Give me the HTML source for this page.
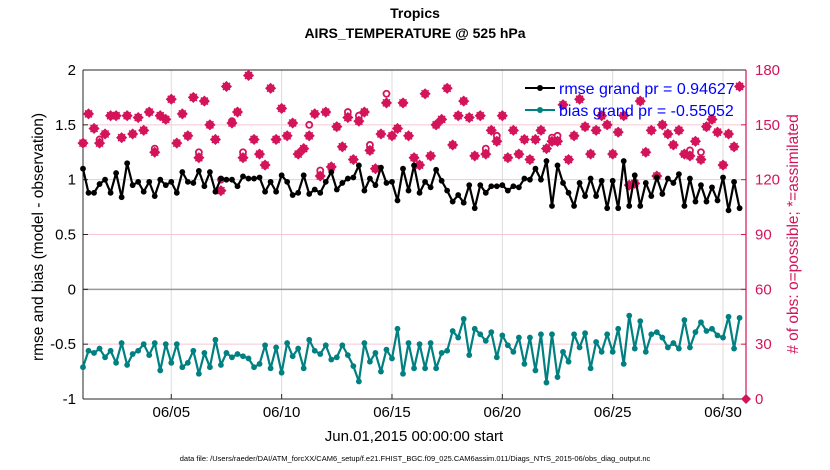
<!DOCTYPE html>
<html><head><meta charset="utf-8"><style>
body{margin:0;background:#fff;}
svg{display:block;font-family:"Liberation Sans",sans-serif;}
</style></head><body>
<svg id="chart" width="830" height="470" viewBox="0 0 830 470">
<rect width="830" height="470" fill="#fff"/>
<g id="grid"></g>
<g id="axes"></g>
<g id="series"></g>
<text x="415" y="18" text-anchor="middle" font-size="14" font-weight="bold">Tropics</text>
<text x="415" y="38" text-anchor="middle" font-size="14" font-weight="bold">AIRS_TEMPERATURE @ 525 hPa</text>
<text transform="translate(43,237) rotate(-90)" text-anchor="middle" font-size="15.5">rmse and bias (model - observation)</text>
<text transform="translate(798,234) rotate(-90)" text-anchor="middle" font-size="15.5" fill="#d4145a"># of obs: o=possible; *=assimilated</text>
<text x="414" y="441" text-anchor="middle" font-size="15">Jun.01,2015 00:00:00 start</text>
<text x="415" y="461" text-anchor="middle" font-size="7.5">data file: /Users/raeder/DAI/ATM_forcXX/CAM6_setup/f.e21.FHIST_BGC.f09_025.CAM6assim.011/Diags_NTrS_2015-06/obs_diag_output.nc</text>
<g>
<line x1="525" y1="88" x2="555" y2="88" stroke="#000" stroke-width="2"/><circle cx="540" cy="88" r="3" fill="#000"/>
<text x="559" y="94" font-size="16" fill="#0000ff">rmse grand pr = 0.94627</text>
<line x1="525" y1="110" x2="555" y2="110" stroke="#008080" stroke-width="2"/><circle cx="540" cy="110" r="3" fill="#008080"/>
<text x="559" y="116" font-size="16" fill="#0000ff">bias grand pr = -0.55052</text>
</g>
</svg>
<script>
const rmse=[1.10,0.88,0.88,0.96,1.0,0.88,1.06,0.84,1.15,0.95,0.98,0.89,0.98,0.85,1.0,0.95,0.98,0.88,1.07,0.98,0.97,1.08,0.94,1.07,0.89,1.01,1.0,1.0,0.94,1.03,1.01,1.01,1.02,0.89,0.98,0.89,1.04,0.98,0.86,0.88,1.04,0.87,0.91,0.88,0.98,1.07,0.91,0.97,1.01,1.02,1.13,0.90,1.01,0.95,1.11,0.97,0.98,0.81,1.10,0.90,1.13,0.88,0.98,0.93,1.09,0.99,0.90,0.80,0.86,0.79,0.95,0.74,0.95,0.88,0.94,0.94,0.95,0.90,0.94,0.93,1.01,1.0,1.10,1.0,1.17,0.76,1.13,0.97,0.88,0.76,0.97,0.85,1.01,0.85,0.99,0.74,0.99,0.74,1.17,0.76,1.04,0.76,0.97,0.85,1.02,0.87,1.01,0.97,1.05,0.76,1.01,0.80,0.95,0.80,0.93,0.81,1.02,0.72,0.98,0.74];
const bias=[-0.71,-0.56,-0.58,-0.54,-0.62,-0.56,-0.67,-0.49,-0.69,-0.59,-0.56,-0.50,-0.60,-0.49,-0.74,-0.50,-0.67,-0.50,-0.71,-0.67,-0.56,-0.77,-0.58,-0.71,-0.46,-0.69,-0.58,-0.62,-0.59,-0.61,-0.63,-0.71,-0.68,-0.51,-0.72,-0.53,-0.76,-0.49,-0.61,-0.54,-0.72,-0.46,-0.56,-0.59,-0.51,-0.64,-0.62,-0.51,-0.60,-0.70,-0.84,-0.49,-0.66,-0.58,-0.75,-0.55,-0.63,-0.36,-0.77,-0.49,-0.72,-0.50,-0.72,-0.49,-0.72,-0.58,-0.56,-0.38,-0.44,-0.27,-0.60,-0.36,-0.41,-0.47,-0.39,-0.62,-0.42,-0.51,-0.57,-0.44,-0.68,-0.44,-0.74,-0.41,-0.85,-0.41,-0.80,-0.57,-0.66,-0.41,-0.53,-0.40,-0.72,-0.48,-0.57,-0.41,-0.57,-0.36,-0.68,-0.24,-0.54,-0.29,-0.57,-0.41,-0.39,-0.44,-0.53,-0.49,-0.54,-0.28,-0.53,-0.39,-0.30,-0.38,-0.36,-0.42,-0.44,-0.25,-0.54,-0.26];
const possible=[140,156,148,142,145,155,155,143,155,145,154,147,157,137,155,153,164,140,156,144,165,135,163,150,142,120,171,152,157,135,177,142,134,128,170,142,159,144,151,134,137,150,156,125,157,127,149,138,157,131,155,157,139,126,145,167,144,148,162,144,132,128,167,133,150,153,170,139,155,163,154,133,155,137,147,144,155,132,147,134,142,131,142,147,137,143,144,161,131,144,164,149,134,147,155,150,134,146,155,117,118,163,135,147,122,150,145,139,147,134,136,141,135,149,153,146,128,145,138,171];
const assimilated=[140,156,148,140,145,155,155,143,155,145,154,147,157,135,155,153,164,140,156,144,165,132,163,150,142,114,171,151,157,132,177,142,134,128,170,142,159,144,151,134,137,144,156,122,157,127,149,138,154,131,152,157,136,126,145,162,144,148,162,144,132,128,167,133,150,153,170,139,155,163,154,133,155,134,147,141,155,132,147,134,142,131,142,147,137,141,141,161,131,144,164,149,134,147,155,150,134,146,155,117,118,163,135,147,122,150,145,139,147,134,133,141,131,149,153,146,128,145,138,171];
const leftTicks=[-1,-0.5,0,0.5,1,1.5,2];
const rightTicks=[0,30,60,90,120,150,180];
const dayTicks=[5,10,15,20,25,30];
const dayLabels=["06/05","06/10","06/15","06/20","06/25","06/30"];

const NS="http://www.w3.org/2000/svg";
const L=83,R=746,T=70,B=399;
const X=d=>L+(d-1)*22.07;
const Y=v=>T+(2-v)*(B-T)/3;
const Y2=v=>B-v*(B-T)/180;
const xi=i=>X(1+i/4);
function mk(tag,attrs,parent){const e=document.createElementNS(NS,tag);for(const k in attrs)e.setAttribute(k,attrs[k]);parent.appendChild(e);return e;}
const grid=document.getElementById('grid'),axes=document.getElementById('axes'),ser=document.getElementById('series');

dayTicks.forEach((d,i)=>{
  const l=mk('line',{x1:X(d),x2:X(d),y1:T,y2:B,stroke:'#dcdcdc','stroke-width':1},grid);
  
  
  mk('line',{x1:X(d),x2:X(d),y1:B,y2:B-5,stroke:'#262626'},axes);
  const t=mk('text',{x:X(d),y:B+18,'text-anchor':'middle','font-size':15},axes);
  t.textContent=dayLabels[i];
  
  
});
rightTicks.forEach(v=>{
  if(v>0&&v<180&&v!==60){
    const l=mk('line',{x1:L,x2:R,y1:Y2(v),y2:Y2(v),stroke:'#f7c6d6','stroke-width':1},grid);
    
    
  }
  mk('line',{x1:R,x2:R-5,y1:Y2(v),y2:Y2(v),stroke:'#d4145a'},axes);
  const t=mk('text',{x:R+9,y:Y2(v)+5,'font-size':15,fill:'#d4145a'},axes);
  t.textContent=v;
  
  
});
const z=mk('line',{x1:L,x2:R,y1:Y(0),y2:Y(0),stroke:'#999','stroke-width':1.5},grid);


leftTicks.forEach(v=>{
  mk('line',{x1:L,x2:L+5,y1:Y(v),y2:Y(v),stroke:'#262626'},axes);
  const t=mk('text',{x:L-7,y:Y(v)+5,'text-anchor':'end','font-size':15},axes);
  t.textContent=String(v);
  
  
});
mk('line',{x1:L,x2:L,y1:T,y2:B,stroke:'#262626'},axes);
mk('line',{x1:L,x2:R,y1:B,y2:B,stroke:'#262626'},axes);
mk('line',{x1:L,x2:R,y1:T,y2:T,stroke:'#262626'},axes);
mk('line',{x1:R,x2:R,y1:T,y2:B,stroke:'#d4145a','stroke-width':1.2},axes);

possible.forEach((v,i)=>{
  const c=mk('circle',{cx:xi(i),cy:Y2(v),r:3,fill:'none',stroke:'#d4145a','stroke-width':1.8},ser);
  
  
});
assimilated.forEach((v,i)=>{
  const x=xi(i),y=Y2(v);
  const p=mk('path',{d:`M${x-4.5},${y}L${x},${y-4.5}L${x+4.5},${y}L${x},${y+4.5}Z M${x-3.5},${y-3.5}L${x+3.5},${y+3.5}M${x-3.5},${y+3.5}L${x+3.5},${y-3.5}`,fill:'#d4145a',stroke:'#d4145a','stroke-width':1.5},ser);
  
  
});
const end=mk('path',{d:`M${R-5},${B}L${R},${B-5}L${R+5},${B}L${R},${B+5}Z`,fill:'#d4145a'},ser);



function line(arr,col,name){
  const pl=mk('polyline',{points:arr.map((v,i)=>xi(i)+','+Y(v)).join(' '),fill:'none',stroke:col,'stroke-width':2.2,'stroke-linejoin':'round'},ser);
  
  
  arr.forEach((v,i)=>{
    const c=mk('circle',{cx:xi(i),cy:Y(v),r:2.9,fill:col},ser);
    
    
  });
}
line(rmse,'#000','rmse');
line(bias,'#008080','bias');
</script>
</body></html>
